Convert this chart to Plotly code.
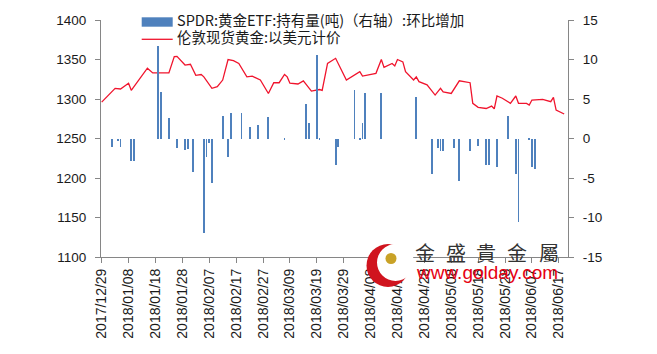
import plotly.graph_objects as go

# ---- data ----
gold_dates = [
    "2017-12-29", "2018-01-03", "2018-01-05", "2018-01-08", "2018-01-09", "2018-01-15",
    "2018-01-17", "2018-01-23", "2018-01-25", "2018-01-26", "2018-01-29", "2018-01-31",
    "2018-02-02", "2018-02-04", "2018-02-05", "2018-02-08", "2018-02-10", "2018-02-12",
    "2018-02-14", "2018-02-16", "2018-02-18", "2018-02-21", "2018-02-23", "2018-02-26",
    "2018-03-01", "2018-03-03", "2018-03-05", "2018-03-07", "2018-03-08", "2018-03-09",
    "2018-03-12", "2018-03-14", "2018-03-17", "2018-03-20", "2018-03-21", "2018-03-23",
    "2018-03-26", "2018-03-30", "2018-04-04", "2018-04-05", "2018-04-10", "2018-04-12",
    "2018-04-13", "2018-04-16", "2018-04-17", "2018-04-18", "2018-04-20", "2018-04-21",
    "2018-04-24", "2018-04-25", "2018-04-26", "2018-04-29", "2018-05-02", "2018-05-04",
    "2018-05-05", "2018-05-08", "2018-05-11", "2018-05-15", "2018-05-16", "2018-05-18",
    "2018-05-21", "2018-05-23", "2018-05-24", "2018-05-25", "2018-05-27", "2018-05-30",
    "2018-06-01", "2018-06-02", "2018-06-05", "2018-06-06", "2018-06-07", "2018-06-11",
    "2018-06-14", "2018-06-15", "2018-06-16", "2018-06-19",
]
gold_price = [
    1296, 1313.5, 1312.7, 1320, 1311, 1339,
    1333, 1333, 1353.6, 1354, 1343, 1344,
    1330, 1331, 1328, 1313.5, 1315.6, 1324,
    1350, 1348.5, 1345, 1328, 1329, 1324,
    1307, 1320.6, 1320.6, 1331, 1328, 1320,
    1319, 1323, 1310, 1312, 1311, 1345,
    1351.5, 1324, 1334.6, 1329, 1332.5, 1350,
    1340, 1345, 1341.8, 1350, 1347, 1334.6,
    1324, 1328, 1322, 1318, 1305, 1313.5,
    1309, 1307, 1323, 1320.6, 1294.5, 1289.5,
    1288, 1291, 1287.6, 1303.8, 1301, 1294.5,
    1303.8, 1294.5, 1294.5, 1292.4, 1298.7, 1299.6,
    1296.6, 1302, 1286, 1281,
]

etf_dates = [
    "2018-01-02", "2018-01-04", "2018-01-05", "2018-01-09", "2018-01-10", "2018-01-19",
    "2018-01-20", "2018-01-23", "2018-01-26", "2018-01-29", "2018-01-30", "2018-02-01",
    "2018-02-05", "2018-02-06", "2018-02-07", "2018-02-08", "2018-02-12", "2018-02-14",
    "2018-02-15", "2018-02-19", "2018-02-22", "2018-02-25", "2018-03-01", "2018-03-07",
    "2018-03-15", "2018-03-16", "2018-03-19", "2018-03-20", "2018-03-26", "2018-03-27",
    "2018-04-02", "2018-04-04", "2018-04-05", "2018-04-06", "2018-04-12", "2018-04-25",
    "2018-05-01", "2018-05-03", "2018-05-04", "2018-05-05", "2018-05-09", "2018-05-11",
    "2018-05-15", "2018-05-18", "2018-05-21", "2018-05-22", "2018-05-25", "2018-05-29",
    "2018-06-01", "2018-06-02", "2018-06-06", "2018-06-07", "2018-06-08",
]
etf_change = [
    -1.1, -0.3, -1.1, -2.9, -2.9, 11.7,
    5.9, 2.6, -1.2, -1.5, -1.3, -4.2,
    -12.0, -2.4, -0.6, -5.6, 2.85, -2.4,
    3.2, 3.2, 1.4, 1.7, 2.75, -0.15,
    4.4, 1.9, 10.57, -0.1, -3.4, -1.05,
    6.1, -0.1, 2.0, 5.8, 5.8, 5.2,
    -4.5, -1.2, -1.55, -1.55, -1.2, -5.4,
    -1.55, -1.0, -3.3, -3.3, -3.6, 2.85,
    -4.5, -10.6, -0.2, -3.6, -3.9,
]

tick_dates = [
    "2017-12-29", "2018-01-08", "2018-01-18", "2018-01-28", "2018-02-07", "2018-02-17",
    "2018-02-27", "2018-03-09", "2018-03-19", "2018-03-29", "2018-04-08", "2018-04-18",
    "2018-04-28", "2018-05-08", "2018-05-18", "2018-05-28", "2018-06-07", "2018-06-17",
]
tick_labels = [d.replace("-", "/") for d in tick_dates]

left_ticks = [1100, 1150, 1200, 1250, 1300, 1350, 1400]
right_ticks = [-15, -10, -5, 0, 5, 10, 15]

bar_name = "SPDR:黄金ETF:持有量(吨)（右轴）:环比增加"
line_name = "伦敦现货黄金:以美元计价"

BLUE = "#4F81BD"
RED = "#F0142D"
AXIS = "#868686"
FONT = "Liberation Sans"
CJK = "Noto Sans CJK SC"

fig = go.Figure()
fig.add_trace(go.Scatter(
    x=gold_dates, y=gold_price, mode="lines", name=line_name,
    line=dict(color=RED, width=1.3), yaxis="y", showlegend=False,
))
fig.add_trace(go.Bar(
    x=etf_dates, y=etf_change, name=bar_name, marker=dict(color=BLUE, line=dict(width=0)),
    width=0.33 * 86400000, yaxis="y2", showlegend=False,
))

axis_common = dict(showgrid=False, zeroline=False, showline=True, linecolor=AXIS,
                   linewidth=1, ticks="outside", ticklen=5, tickcolor=AXIS, tickwidth=1)

fig.update_layout(
    width=657, height=354,
    margin=dict(l=101, r=89, t=20, b=97),
    plot_bgcolor="white", paper_bgcolor="white",
    bargap=0,
    xaxis=dict(
        type="date", range=["2017-12-28 18:00", "2018-06-20 10:00"],
        tickvals=tick_dates, ticktext=tick_labels, tickangle=-90,
        tickfont=dict(family=FONT, size=14, color="#1a1a1a"),
        **axis_common,
    ),
    yaxis=dict(
        range=[1100, 1400], tickvals=left_ticks, ticktext=[str(v) for v in left_ticks],
        tickfont=dict(family=FONT, size=13.5, color="#1a1a1a"),
        ticklabelstandoff=6,
        **axis_common,
    ),
    yaxis2=dict(
        range=[-15, 15], overlaying="y", side="right",
        tickvals=right_ticks, ticktext=[str(v) for v in right_ticks],
        tickfont=dict(family=FONT, size=13.5, color="#1a1a1a"),
        ticklabelstandoff=6,
        **axis_common,
    ),
    showlegend=False,
)

# custom legend (Excel style)
def px_x(p):
    return (p - 101) / 467.0

def px_y(p):
    return (257 - p) / 237.0

fig.add_shape(type="rect", xref="paper", yref="paper",
              x0=px_x(141.7), x1=px_x(172.7), y0=px_y(26.7), y1=px_y(17.3),
              fillcolor=BLUE, line=dict(width=0), layer="above")
fig.add_shape(type="line", xref="paper", yref="paper",
              x0=px_x(141.7), x1=px_x(172.7), y0=px_y(39.3), y1=px_y(39.3),
              line=dict(color=RED, width=1.3), layer="above")
fig.add_annotation(xref="paper", yref="paper", x=px_x(175), y=px_y(19),
                   xanchor="left", yanchor="middle", showarrow=False, text=bar_name,
                   font=dict(family=CJK, size=14.5, color="#1a1a1a"))
fig.add_annotation(xref="paper", yref="paper", x=px_x(175), y=px_y(36.5),
                   xanchor="left", yanchor="middle", showarrow=False, text=line_name,
                   font=dict(family=CJK, size=14.5, color="#1a1a1a"))

# watermark logo
fig.add_shape(type="circle", xref="paper", yref="paper",
              x0=px_x(366.5), x1=px_x(409.5), y0=px_y(287), y1=px_y(244),
              fillcolor="#D0141E", line=dict(width=0), layer="above")
fig.add_shape(type="circle", xref="paper", yref="paper",
              x0=px_x(377), x1=px_x(414), y0=px_y(281), y1=px_y(244),
              fillcolor="white", line=dict(width=0), layer="above")
fig.add_shape(type="circle", xref="paper", yref="paper",
              x0=px_x(385.5), x1=px_x(396.5), y0=px_y(264), y1=px_y(253),
              fillcolor="#C9A227", line=dict(width=0), layer="above")
for ch, cx in zip(["金", "盛", "貴", "金", "屬"], [425, 455.7, 485.7, 516.7, 549]):
    fig.add_annotation(xref="paper", yref="paper", x=px_x(cx), y=px_y(252.5),
                       xanchor="center", yanchor="middle", showarrow=False, text=ch,
                       font=dict(family="Noto Sans CJK TC", size=20, color="#333333"))
fig.add_annotation(xref="paper", yref="paper", x=px_x(486.5), y=px_y(272),
                   xanchor="center", yanchor="middle", showarrow=False, text="www.golday.com",
                   font=dict(family=FONT, size=19, color="#E60012"))

fig.write_html("out.html")
